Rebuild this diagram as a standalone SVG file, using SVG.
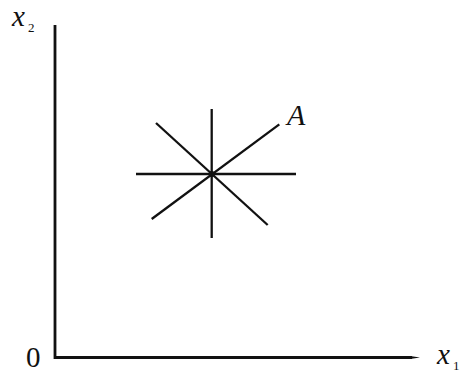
<svg xmlns="http://www.w3.org/2000/svg" width="467" height="375" viewBox="0 0 467 375">
<style>
.ax{stroke:#111;stroke-width:2.8;fill:none;stroke-linecap:butt}
.ln{stroke:#111;stroke-width:2.3;fill:none}
.t{font-family:'Liberation Serif','Times New Roman',serif;fill:#111}
.i{font-style:italic}
</style>
<rect width="467" height="375" fill="#fff"/>
<g id="connectors">
<path class="ax" d="M55,25 L55,357.5 L412,357.5"/>
<polygon points="410,356 420,357.5 410,359" fill="#111"/>
</g>
<g id="star">
<line class="ln" x1="136" y1="174" x2="296" y2="174"/>
<line class="ln" x1="211.7" y1="109" x2="211.7" y2="238"/>
<line class="ln" x1="156" y1="123" x2="267.7" y2="225"/>
<line class="ln" x1="151.7" y1="219" x2="279.3" y2="124.3"/>
<circle cx="211.7" cy="174" r="3" fill="#111"/>
</g>
<g id="labels">
<text class="t i" x="12" y="26" font-size="29">x</text>
<text class="t" x="28" y="32" font-size="13">2</text>
<text class="t i" x="287" y="125" font-size="30">A</text>
<text class="t" x="26" y="367" font-size="29">0</text>
<text class="t i" x="437" y="364" font-size="29">x</text>
<text class="t" x="453" y="370" font-size="13">1</text>
</g>
</svg>
